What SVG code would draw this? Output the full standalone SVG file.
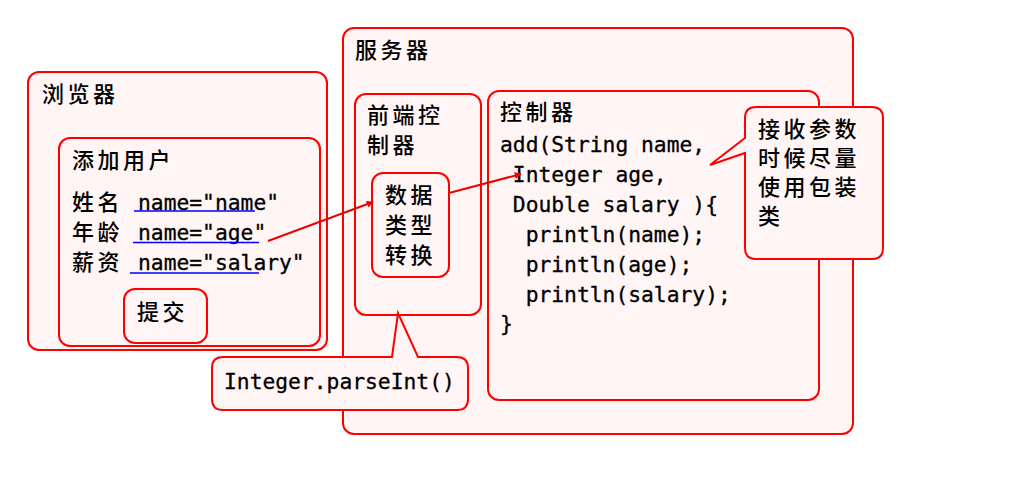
<svg xmlns="http://www.w3.org/2000/svg" width="1024" height="477" viewBox="0 0 1024 477">
<defs>
<style>
.box{fill:#fff5f5;stroke:#ff0000;stroke-width:2}
.cjk{font-family:"Noto Sans CJK SC","Noto Sans CJK JP",sans-serif;font-size:22px;font-weight:500;letter-spacing:3.5px;fill:#000}
.code{font-family:"DejaVu Sans Mono","Liberation Mono",monospace;font-size:21.3px;fill:#000;letter-spacing:0;stroke:#000;stroke-width:0.3}
.ul{stroke:#0000ff;stroke-width:1.6}
.arrow{stroke:#ee0000;stroke-width:2;fill:none;marker-end:url(#ah)}
</style>
<marker id="ah" viewBox="0 0 10 10" refX="9" refY="5" markerWidth="7" markerHeight="7" markerUnits="userSpaceOnUse" orient="auto">
<path d="M0,0 L10,5 L0,10 Z" fill="#ee0000"/>
</marker>
</defs>
<rect width="1024" height="477" fill="#ffffff"/>

<g id="browser">
<rect class="box" x="28" y="72" width="299" height="278" rx="11"/>
<text class="cjk" x="42" y="102">浏览器</text>
</g>
<g id="add-user">
<rect class="box" x="59" y="138" width="261" height="208" rx="11"/>
<text class="cjk" x="72" y="168">添加用户</text>
<text x="72" y="210"><tspan class="cjk">姓名</tspan><tspan class="code" x="138">name="name"</tspan></text>
<text x="72" y="240"><tspan class="cjk">年龄</tspan><tspan class="code" x="138">name="age"</tspan></text>
<text x="72" y="270"><tspan class="cjk">薪资</tspan><tspan class="code" x="138">name="salary"</tspan></text>
<line class="ul" x1="134" y1="211" x2="255" y2="211"/>
<line class="ul" x1="133" y1="242.5" x2="259" y2="242.5"/>
<line class="ul" x1="130" y1="273" x2="259" y2="273"/>
</g>
<g id="submit">
<rect class="box" x="124" y="289" width="83" height="54" rx="11"/>
<text class="cjk" x="137" y="320">提交</text>
</g>

<g id="server">
<rect class="box" x="343" y="28" width="510" height="406" rx="11"/>
<text class="cjk" x="355" y="58">服务器</text>
</g>
<g id="front-controller">
<rect class="box" x="355" y="94" width="126" height="221" rx="11"/>
<text class="cjk" x="367" y="123">前端控</text>
<text class="cjk" x="367" y="153">制器</text>
</g>
<g id="type-conversion">
<rect class="box" x="372" y="173" width="77" height="104" rx="11"/>
<text class="cjk" x="385" y="203">数据</text>
<text class="cjk" x="385" y="233">类型</text>
<text class="cjk" x="385" y="263">转换</text>
</g>
<g id="controller">
<rect class="box" x="488" y="91" width="331" height="309" rx="11"/>
<text class="cjk" x="500" y="120">控制器</text>
<text class="code" xml:space="preserve"><tspan x="500" y="152">add(String name,</tspan><tspan x="500" y="182"> Integer age,</tspan><tspan x="500" y="212"> Double salary ){</tspan><tspan x="500" y="242">  println(name);</tspan><tspan x="500" y="272">  println(age);</tspan><tspan x="500" y="302">  println(salary);</tspan><tspan x="500" y="331">}</tspan></text>
</g>

<g id="connectors">
<line class="arrow" x1="268" y1="241" x2="373" y2="202"/>
<line class="arrow" x1="449" y1="193" x2="521" y2="174"/>
</g>

<g id="callout-wrapper">
<path class="box" d="M756,107 H872 Q883,107 883,118 V248 Q883,259 872,259 H756 Q745,259 745,248 V153 L710,165 L745,138 V118 Q745,107 756,107 Z"/>
<text class="cjk" x="758" y="137">接收参数</text>
<text class="cjk" x="758" y="166">时候尽量</text>
<text class="cjk" x="758" y="195">使用包装</text>
<text class="cjk" x="758" y="224">类</text>
</g>
<g id="callout-parseint">
<path class="box" d="M223,357 H392 L398,313 L418,357 H457 Q468,357 468,368 V399 Q468,410 457,410 H223 Q212,410 212,399 V368 Q212,357 223,357 Z"/>
<text class="code" x="224" y="389">Integer.parseInt()</text>
</g>
</svg>
